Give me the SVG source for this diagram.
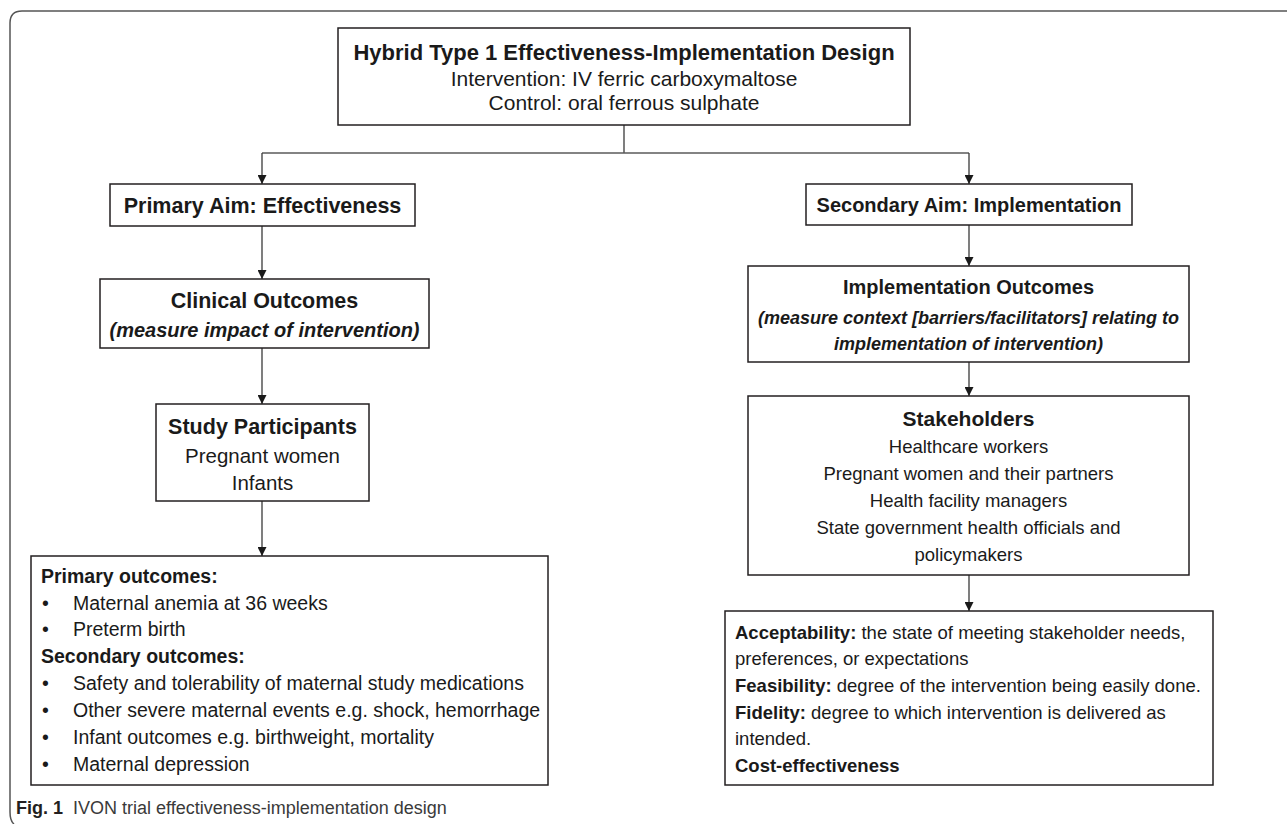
<svg xmlns="http://www.w3.org/2000/svg" width="1287" height="824" viewBox="0 0 1287 824">
  <style>
    .box { fill: #ffffff; stroke: #231f20; stroke-width: 1.5; }
    .t { font-family: "Liberation Sans", Arial, sans-serif; fill: #1a1a1a; }
    .c { text-anchor: middle; }
    .b { font-weight: bold; }
    .bi { font-weight: bold; font-style: italic; }
    .conn { fill: none; stroke: #3a3a3a; stroke-width: 1.3; }
    .frame { fill: none; stroke: #555555; stroke-width: 1.5; }
  </style>
  <defs>
    <marker id="arrow" viewBox="0 0 10 10" refX="10" refY="5" markerUnits="userSpaceOnUse" markerWidth="9" markerHeight="9" orient="auto">
      <path d="M0,0 L10,5 L0,10 z" fill="#1a1a1a"/>
    </marker>
  </defs>
  <rect x="0" y="0" width="1287" height="824" fill="#ffffff"/>
  <path class="frame" d="M14,824 Q10,821 10,812 L10,23 Q10,11 22,11 L1287,11"/>

  <g id="connectors">
    <path class="conn" d="M624,125 L624,153"/>
    <path class="conn" d="M262,153 L969,153" style="stroke:#5a5a5a;stroke-width:1.6"/>
    <path class="conn" d="M262,153 L262,184" marker-end="url(#arrow)"/>
    <path class="conn" d="M969,153 L969,184" marker-end="url(#arrow)"/>
    <path class="conn" d="M262,226 L262,279" marker-end="url(#arrow)"/>
    <path class="conn" d="M262,348 L262,404" marker-end="url(#arrow)"/>
    <path class="conn" d="M262,501 L262,556" marker-end="url(#arrow)"/>
    <path class="conn" d="M969,225 L969,266" marker-end="url(#arrow)"/>
    <path class="conn" d="M969,362 L969,396" marker-end="url(#arrow)"/>
    <path class="conn" d="M969,575 L969,611" marker-end="url(#arrow)"/>
  </g>

  <g id="design">
    <rect class="box" x="338" y="28" width="572" height="97"/>
    <text class="t c b" x="624" y="60" font-size="22">Hybrid Type 1 Effectiveness-Implementation Design</text>
    <text class="t c" x="624" y="86" font-size="21">Intervention: IV ferric carboxymaltose</text>
    <text class="t c" x="624" y="110" font-size="21">Control: oral ferrous sulphate</text>
  </g>

  <g id="primary-aim">
    <rect class="box" x="110" y="184" width="305" height="42"/>
    <text class="t c b" x="262.5" y="213" font-size="21.5">Primary Aim: Effectiveness</text>
  </g>

  <g id="secondary-aim">
    <rect class="box" x="806" y="184" width="326" height="41"/>
    <text class="t c b" x="969" y="212" font-size="20">Secondary Aim: Implementation</text>
  </g>

  <g id="clinical-outcomes">
    <rect class="box" x="100" y="279" width="329" height="69"/>
    <text class="t c b" x="264.5" y="308" font-size="21.5">Clinical Outcomes</text>
    <text class="t c bi" x="264.5" y="337" font-size="20">(measure impact of intervention)</text>
  </g>

  <g id="study-participants">
    <rect class="box" x="156" y="404" width="213" height="97"/>
    <text class="t c b" x="262.5" y="434" font-size="21.5">Study Participants</text>
    <text class="t c" x="262.5" y="463" font-size="20.5">Pregnant women</text>
    <text class="t c" x="262.5" y="490" font-size="20.5">Infants</text>
  </g>

  <g id="clinical-list">
    <rect class="box" x="31" y="556" width="517" height="229"/>
    <g class="t" font-size="19.5">
      <text class="b" x="41" y="583">Primary outcomes:</text>
      <text x="42" y="610">•</text><text x="73" y="610">Maternal anemia at 36 weeks</text>
      <text x="42" y="636">•</text><text x="73" y="636">Preterm birth</text>
      <text class="b" x="41" y="663">Secondary outcomes:</text>
      <text x="42" y="690">•</text><text x="73" y="690">Safety and tolerability of maternal study medications</text>
      <text x="42" y="717">•</text><text x="73" y="717">Other severe maternal events e.g. shock, hemorrhage</text>
      <text x="42" y="744">•</text><text x="73" y="744">Infant outcomes e.g. birthweight, mortality</text>
      <text x="42" y="771">•</text><text x="73" y="771">Maternal depression</text>
    </g>
  </g>

  <g id="implementation-outcomes">
    <rect class="box" x="748" y="266" width="441" height="96"/>
    <text class="t c b" x="968.5" y="294" font-size="20">Implementation Outcomes</text>
    <text class="t c bi" x="968.5" y="324" font-size="18">(measure context [barriers/facilitators] relating to</text>
    <text class="t c bi" x="968.5" y="350" font-size="18">implementation of intervention)</text>
  </g>

  <g id="stakeholders">
    <rect class="box" x="748" y="396" width="441" height="179"/>
    <text class="t c b" x="968.5" y="426" font-size="21">Stakeholders</text>
    <text class="t c" x="968.5" y="453" font-size="18.5">Healthcare workers</text>
    <text class="t c" x="968.5" y="480" font-size="18.5">Pregnant women and their partners</text>
    <text class="t c" x="968.5" y="507" font-size="18.5">Health facility managers</text>
    <text class="t c" x="968.5" y="534" font-size="18.5">State government health officials and</text>
    <text class="t c" x="968.5" y="561" font-size="18.5">policymakers</text>
  </g>

  <g id="implementation-list">
    <rect class="box" x="725" y="611" width="488" height="174"/>
    <g class="t" font-size="18.5">
      <text x="735" y="639"><tspan class="b">Acceptability:</tspan> the state of meeting stakeholder needs,</text>
      <text x="735" y="665">preferences, or expectations</text>
      <text x="735" y="692"><tspan class="b">Feasibility:</tspan> degree of the intervention being easily done.</text>
      <text x="735" y="719"><tspan class="b">Fidelity:</tspan> degree to which intervention is delivered as</text>
      <text x="735" y="745">intended.</text>
      <text class="b" x="735" y="772">Cost-effectiveness</text>
    </g>
  </g>

  <g id="caption">
    <text class="t" x="16" y="814" font-size="18"><tspan class="b" fill="#231f20">Fig. 1</tspan><tspan dx="10" fill="#3a3a3a">IVON trial effectiveness-implementation design</tspan></text>
  </g>
</svg>
